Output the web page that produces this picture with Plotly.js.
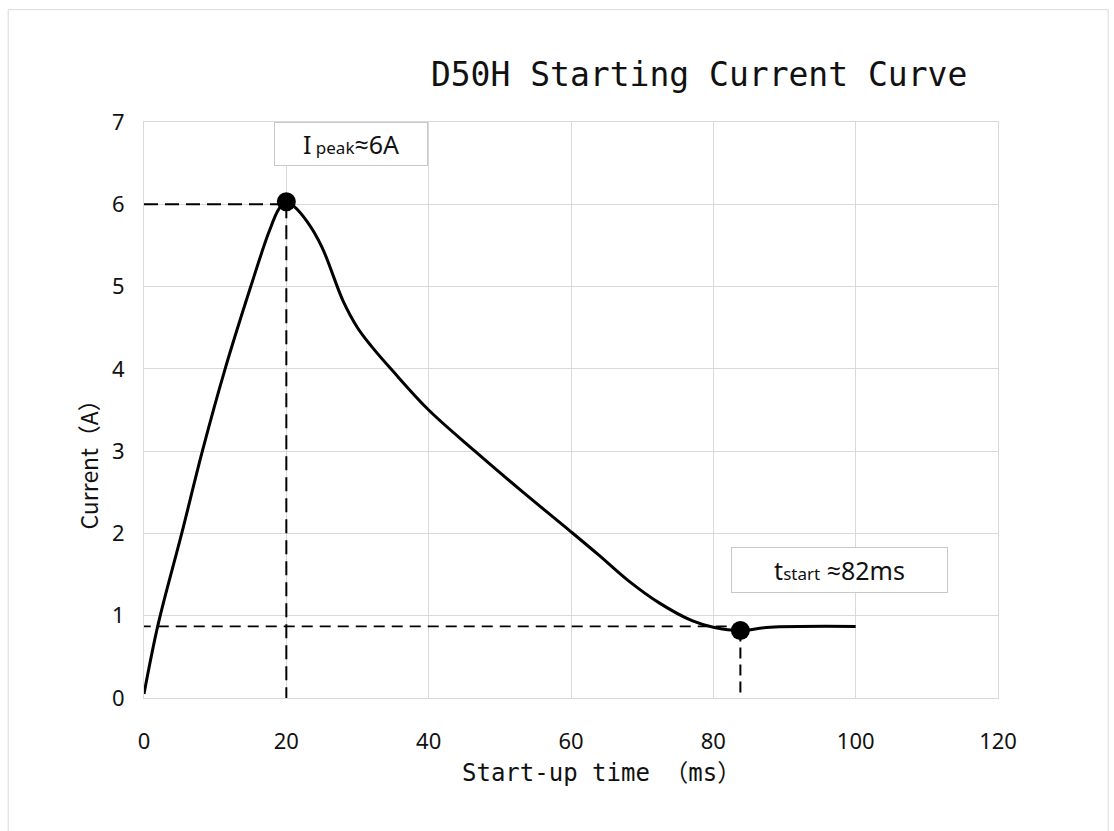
<!DOCTYPE html>
<html>
<head>
<meta charset="utf-8">
<script src="https://cdn.plot.ly/plotly-3.0.1.min.js"></script>
<style>
  html, body { margin: 0; padding: 0; background: #ffffff; }
  #chart { width: 1114px; height: 831px; }
</style>
</head>
<body>
<div id="chart"></div>
<script>
// ---- Data ----
const timeMs = [0, 2, 5.3, 8.2, 11.4, 15, 17.5, 19, 20, 21, 23, 25, 28, 30, 32, 35, 40, 46.5, 53, 60, 64, 68, 72.5, 77, 80, 83.8, 88, 100];
const currentA = [0.05, 0.9, 2.0, 3.0, 4.0, 5.0, 5.65, 5.95, 6.03, 5.98, 5.78, 5.48, 4.82, 4.5, 4.27, 3.97, 3.5, 3.0, 2.52, 2.02, 1.73, 1.43, 1.15, 0.94, 0.86, 0.82, 0.86, 0.87];

const peakX = [20];
const peakY = [6.03];
const startX = [83.8];
const startY = [0.82];

const peakGuideH_x = [0, 20];
const peakGuideH_y = [6.0, 6.0];
const peakGuideV_x = [20, 20];
const peakGuideV_y = [6.0, -0.1];

const startGuideH_x = [-0.6, 83.8];
const startGuideH_y = [0.87, 0.87];
const startGuideV_x = [83.8, 83.8];
const startGuideV_y = [0.82, -0.1];

const xTicks = [0, 20, 40, 60, 80, 100, 120];
const yTicks = [0, 1, 2, 3, 4, 5, 6, 7];

const titleText = 'D50H Starting Current Curve';
const xTitleText = 'Start-up time （ms）';
const yTitleText = 'Current（A）';
const peakLabel = 'I<span style="font-size:17px"> peak</span>≈6A';
const startLabel = 't<span style="font-size:17px">start</span> ≈82ms';

const monoFont = '"DejaVu Sans Mono", "Noto Sans CJK SC", monospace';
const sansFont = '"Noto Sans", "Open Sans", "Noto Sans CJK SC", sans-serif';
const cjkFont = '"Noto Sans CJK SC", "Noto Sans", sans-serif';

const traces = [
  { x: peakGuideH_x, y: peakGuideH_y, mode: 'lines', line: { color: '#000', width: 2, dash: '14px,7px' }, cliponaxis: false, hoverinfo: 'skip' },
  { x: peakGuideV_x, y: peakGuideV_y, mode: 'lines', line: { color: '#000', width: 2, dash: '14px,7px' }, cliponaxis: false, hoverinfo: 'skip' },
  { x: startGuideH_x, y: startGuideH_y, mode: 'lines', line: { color: '#000', width: 1.6, dash: '11px,7px' }, cliponaxis: false, hoverinfo: 'skip' },
  { x: startGuideV_x, y: startGuideV_y, mode: 'lines', line: { color: '#000', width: 2, dash: '11px,6px' }, cliponaxis: false, hoverinfo: 'skip' },
  { x: timeMs, y: currentA, mode: 'lines', line: { color: '#000', width: 3, shape: 'spline', smoothing: 1 }, cliponaxis: false },
  { x: peakX, y: peakY, mode: 'markers', marker: { color: '#000', size: 19 }, cliponaxis: false },
  { x: startX, y: startY, mode: 'markers', marker: { color: '#000', size: 19 }, cliponaxis: false }
];

const layout = {
  width: 1114,
  height: 831,
  autosize: false,
  showlegend: false,
  paper_bgcolor: '#ffffff',
  plot_bgcolor: '#ffffff',
  margin: { l: 144, r: 116, t: 122, b: 133 },
  title: {
    text: titleText,
    font: { family: monoFont, size: 33, color: '#111' },
    x: 0.65, xanchor: 'center', xref: 'paper',
    y: 0.91, yanchor: 'middle', yref: 'container'
  },
  xaxis: {
    range: [0, 120],
    tickvals: xTicks,
    ticktext: xTicks.map(String),
    showgrid: true, gridcolor: '#d9d9d9', gridwidth: 1,
    zeroline: false,
    showline: true, linecolor: '#d9d9d9', linewidth: 1, mirror: true,
    ticks: 'outside', ticklen: 24, tickcolor: 'rgba(0,0,0,0)',
    tickfont: { family: sansFont, size: 22, color: '#111' },
    fixedrange: true
  },
  yaxis: {
    range: [0, 7],
    tickvals: yTicks,
    ticktext: yTicks.map(String),
    showgrid: true, gridcolor: '#d9d9d9', gridwidth: 1,
    zeroline: false,
    showline: true, linecolor: '#d9d9d9', linewidth: 1, mirror: true,
    ticks: 'outside', ticklen: 14, tickcolor: 'rgba(0,0,0,0)',
    tickfont: { family: sansFont, size: 22, color: '#111' },
    fixedrange: true
  },
  annotations: [
    {
      text: peakLabel, xref: 'x', yref: 'y', x: 29.1, y: 6.73,
      showarrow: false, font: { family: sansFont, size: 25, color: '#111' },
      bordercolor: '#c8c8c8', borderwidth: 1, bgcolor: '#ffffff',
      width: 150, height: 40, align: 'center', valign: 'middle'
    },
    {
      text: startLabel, xref: 'x', yref: 'y', x: 97.7, y: 1.555,
      showarrow: false, font: { family: sansFont, size: 25, color: '#111' },
      bordercolor: '#c8c8c8', borderwidth: 1, bgcolor: '#ffffff',
      width: 213, height: 42, align: 'center', valign: 'middle'
    },
    {
      text: xTitleText, xref: 'paper', yref: 'paper', x: 0.536, y: -0.13,
      xanchor: 'center', yanchor: 'middle', showarrow: false,
      font: { family: monoFont, size: 24, color: '#111' }
    },
    {
      text: yTitleText, xref: 'paper', yref: 'paper', x: -0.066, y: 0.415,
      xanchor: 'center', yanchor: 'middle', showarrow: false, textangle: -90,
      font: { family: cjkFont, size: 23, color: '#111' }
    }
  ],
  shapes: [
    {
      type: 'rect', xref: 'paper', yref: 'paper',
      x0: -0.159, x1: 1.129, y0: -0.25, y1: 1.195,
      line: { color: '#d9d9d9', width: 1 }, fillcolor: 'rgba(0,0,0,0)', layer: 'below'
    }
  ]
};

Plotly.newPlot('chart', traces, layout, { displayModeBar: false, staticPlot: true });
</script>
</body>
</html>
